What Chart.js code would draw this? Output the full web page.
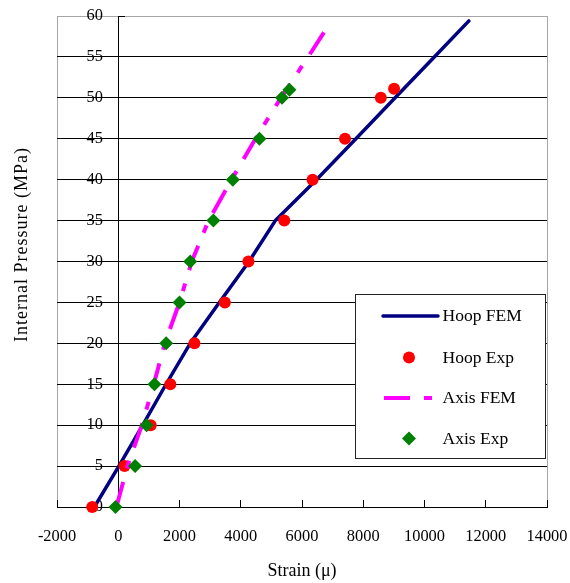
<!DOCTYPE html>
<html><head><meta charset="utf-8">
<script src="https://cdn.jsdelivr.net/npm/chart.js@4"></script>
<style>html,body{margin:0;padding:0;background:#fff;}#wrap{width:570px;height:583px;position:relative;}</style>
</head><body><div id="wrap"><canvas id="c"></canvas></div>
<script>
const xTitle = 'Strain (μ)';
const yTitle = 'Internal Pressure (MPa)';
const seriesNames = ['Hoop FEM', 'Hoop Exp', 'Axis FEM', 'Axis Exp'];

const hoopFemStrain   = [-780, 20, 800, 1560, 2350, 3300, 4270, 5130, 6470, 7760, 9040, 10320, 11450];
const hoopFemPressure = [0, 5, 10, 15, 20, 25, 30, 35, 40, 45, 50, 55, 59.4];

const hoopExpStrain   = [-850, 205, 1060, 1700, 2487, 3480, 4250, 5421, 6345, 7405, 8573, 9007];
const hoopExpPressure = [0, 5, 10, 15, 20, 25, 30, 35, 40, 45, 50, 51.1];

const axisFemStrain   = [-60, 300, 770, 1160, 1520, 2000, 2400, 2950, 3700, 4480, 5310, 6200, 6780];
const axisFemPressure = [0, 5, 10, 15, 20, 25, 30, 35, 40, 45, 50, 55, 58.35];

const axisExpStrain   = [-90, 550, 925, 1183, 1565, 2000, 2352, 3107, 3740, 4610, 5346, 5590];
const axisExpPressure = [0, 5, 10, 15, 20, 25, 30, 35, 40, 45, 50, 51];

const xTicks = [-2000, 0, 2000, 4000, 6000, 8000, 10000, 12000, 14000];
const yTicks = [0, 5, 10, 15, 20, 25, 30, 35, 40, 45, 50, 55, 60];

const FONT = "'Liberation Serif', 'Times New Roman', serif";
const pts = (xs, ys) => xs.map((x, i) => ({x: x, y: ys[i]}));

function patch(scale, name, fn) {
  if (!scale || scale['_p_' + name]) return;
  const orig = scale[name];
  scale[name] = function () {
    const c = this.ctx;
    c.save();
    fn(c);
    orig.apply(this, arguments);
    c.restore();
  };
  scale['_p_' + name] = true;
}

const frameAndLegend = {
  id: 'frameAndLegend',
  beforeDraw(chart) {
    const {ctx, chartArea: a} = chart;
    ctx.save();
    ctx.strokeStyle = '#a6a6a6';
    ctx.lineWidth = 1;
    ctx.strokeRect(Math.round(a.left) + 0.5, Math.round(a.top) + 0.5, Math.round(a.right - a.left), Math.round(a.bottom - a.top));
    ctx.restore();
    patch(chart.scales.yt, 'drawTitle', c => { c.translate(0, -17); c.letterSpacing = '1px'; });
    patch(chart.scales.y, 'drawLabels', c => { c.translate(-15.4, 0); });
  },
  afterDraw(chart) {
    const ctx = chart.ctx;
    const ds = chart.data.datasets;
    ctx.save();
    ctx.fillStyle = '#fff';
    ctx.fillRect(355, 294, 191, 165);
    ctx.strokeStyle = '#222';
    ctx.lineWidth = 1;
    ctx.strokeRect(355.5, 294.5, 190, 164);
    const rows = [316, 357.5, 398, 438.5];
    const cx = 409;
    ctx.font = '17.5px ' + FONT;
    ctx.fillStyle = '#000';
    ctx.textBaseline = 'middle';
    ctx.textAlign = 'left';
    ds.forEach((d, i) => {
      const y = rows[i];
      if (d.showLine) {
        ctx.save();
        ctx.strokeStyle = d.borderColor;
        ctx.lineWidth = d.borderWidth;
        if (d.borderDash) {
          ctx.setLineDash(d.borderDash);
          ctx.lineCap = 'butt';
          ctx.beginPath(); ctx.moveTo(384, y); ctx.lineTo(432, y); ctx.stroke();
        } else {
          ctx.lineCap = 'round';
          ctx.beginPath(); ctx.moveTo(383, y); ctx.lineTo(438, y); ctx.stroke();
        }
        ctx.restore();
      } else {
        ctx.save();
        ctx.fillStyle = d.backgroundColor;
        ctx.beginPath();
        if (d.pointStyle === 'rectRot') {
          const r = d.pointRadius;
          ctx.moveTo(cx, y - r); ctx.lineTo(cx + r, y); ctx.lineTo(cx, y + r); ctx.lineTo(cx - r, y); ctx.closePath();
        } else {
          ctx.arc(cx, y, d.pointRadius, 0, Math.PI * 2);
        }
        ctx.fill();
        ctx.restore();
      }
      ctx.fillText(d.label, 442.5, y + 0.5);
    });
    ctx.restore();
  }
};

new Chart(document.getElementById('c'), {
  type: 'scatter',
  data: {
    datasets: [
      {label: seriesNames[0], data: pts(hoopFemStrain, hoopFemPressure), showLine: true, borderColor: '#000080', backgroundColor: '#000080', borderWidth: 3.5, borderCapStyle: 'round', borderJoinStyle: 'round', pointRadius: 0, pointHoverRadius: 0, tension: 0, order: 4, clip: false},
      {label: seriesNames[1], data: pts(hoopExpStrain, hoopExpPressure), showLine: false, pointStyle: 'circle', pointRadius: 6, pointHoverRadius: 6, backgroundColor: '#ff0000', borderColor: '#ff0000', borderWidth: 0, order: 3, clip: false},
      {label: seriesNames[2], data: pts(axisFemStrain, axisFemPressure), showLine: true, borderColor: '#ff00ff', backgroundColor: '#ff00ff', borderWidth: 4, borderDash: [26, 14, 8, 14], borderCapStyle: 'butt', pointRadius: 0, pointHoverRadius: 0, tension: 0, order: 2, clip: false},
      {label: seriesNames[3], data: pts(axisExpStrain, axisExpPressure), showLine: false, pointStyle: 'rectRot', pointRadius: 7, pointHoverRadius: 7, backgroundColor: '#008000', borderColor: '#008000', borderWidth: 0, order: 1, clip: false}
    ]
  },
  options: {
    responsive: true,
    maintainAspectRatio: false,
    animation: false,
    devicePixelRatio: 1,
    layout: {padding: {left: 7, right: 23, top: 16, bottom: 0}},
    plugins: {legend: {display: false}, tooltip: {enabled: false}},
    scales: {
      x: {
        type: 'linear', position: 'bottom', min: -2000, max: 14000,
        afterBuildTicks: s => { s.ticks = xTicks.map(v => ({value: v})); },
        afterFit: s => { s.height = 76; s.paddingLeft = 0; s.paddingRight = 0; },
        grid: {display: true, drawOnChartArea: false, drawTicks: true, tickLength: -7, color: '#000', lineWidth: 1},
        border: {display: true, color: '#000', width: 1},
        ticks: {color: '#000', font: {family: FONT, size: 16.4}, padding: 27.2, maxRotation: 0, autoSkip: false,
                callback: v => String(v)},
        title: {display: true, text: xTitle, color: '#000', font: {family: FONT, size: 18}, padding: {top: 0, bottom: 1}}
      },
      y: {
        type: 'linear', position: {x: 0}, min: 0, max: 60,
        afterBuildTicks: s => { s.ticks = yTicks.map(v => ({value: v})); },
        afterFit: s => { s.width = 0; },
        grid: {display: true, drawOnChartArea: true, drawTicks: true, tickLength: -7, lineWidth: 1,
               color: c => (c.tick && c.tick.value === 60) ? '#a6a6a6' : '#000', tickColor: '#000'},
        border: {display: true, color: '#000', width: 1},
        ticks: {color: '#000', font: {family: FONT, size: 16.4}, padding: 0, autoSkip: false, callback: v => String(v)}
      },
      yt: {
        type: 'linear', position: 'left', min: 0, max: 60,
        afterFit: s => { s.width = 50; },
        grid: {display: false, drawTicks: false},
        border: {display: false},
        ticks: {display: false},
        title: {display: true, text: yTitle, color: '#000', font: {family: FONT, size: 18}, padding: {top: 4, bottom: 4}}
      }
    }
  },
  plugins: [frameAndLegend]
});
</script>
</body></html>
